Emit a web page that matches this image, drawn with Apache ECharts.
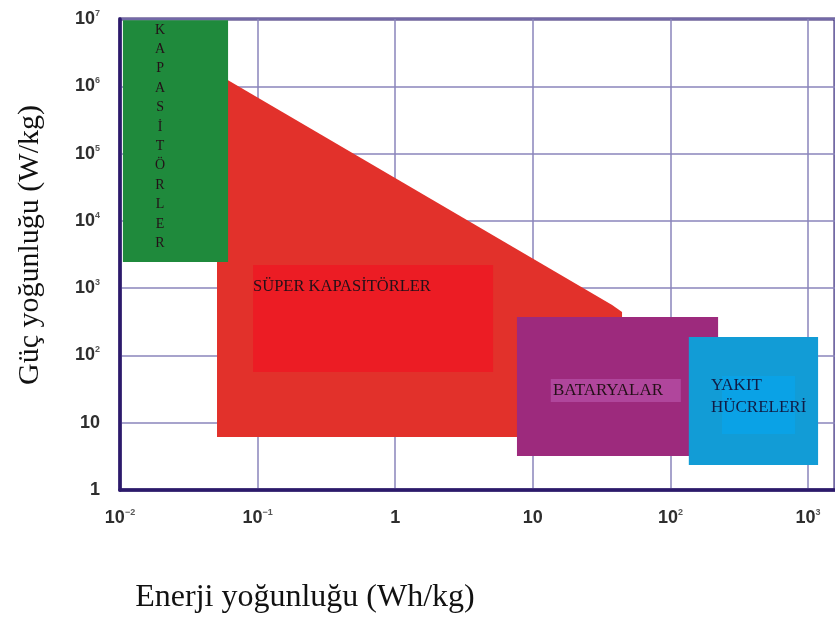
<!DOCTYPE html>
<html>
<head>
<meta charset="utf-8">
<script src="https://cdn.jsdelivr.net/npm/echarts@6/dist/echarts.min.js"></script>
<style>html,body{margin:0;padding:0;background:#fff}#c{width:835px;height:617px}</style>
</head>
<body>
<div id="c"></div>
<script>
// ---- axis ticks ----
const xTickExp = [-2, -1, 0, 1, 2, 3];
const xTickBase = ['10', '10', '1', '10', '10', '10'];
const xTickSup = ['\u22122', '\u22121', '', '', '2', '3'];
const yTickExp = [0, 1, 2, 3, 4, 5, 6, 7];
const yTickBase = ['1', '10', '10', '10', '10', '10', '10', '10'];
const yTickSup = ['', '', '2', '3', '4', '5', '6', '7'];

// ---- regions (energy Wh/kg, power W/kg) ----
const kapasitorler = [[0.0105, 2450], [0.061, 9.6e6]];
const superKapasitorler = [[0.0507, 6.13], [0.0507, 1.54e6], [37.7, 561], [44.5, 442], [44.5, 6.13]];
const superKapasitorlerIc = [[0.0927, 56.7], [5.14, 2206]];
const bataryalar = [[7.67, 3.2], [222, 372]];
const bataryalarIc = [[13.5, 20.3], [119, 44.6]];
const yakitHucreleri = [[136, 2.35], [1183, 188]];
const yakitHucreleriIc = [[237, 6.8], [805, 49.5]];

// ---- labels ----
const labelTexts = ['SÜPER KAPASİTÖRLER', 'BATARYALAR', 'YAKIT\nHÜCRELERİ', 'KAPASİTÖRLER'];
const labelPos = [[0.0927, 1040], [14.0, 29.6], [197, 24.9], [0.01954, 1.79e5]];

function rectPts(r) {
  return [[r[0][0], r[0][1]], [r[1][0], r[0][1]], [r[1][0], r[1][1]], [r[0][0], r[1][1]]];
}
function polySeries(points, color) {
  return {
    type: 'custom', coordinateSystem: 'cartesian2d', silent: true, clip: true,
    data: points,
    renderItem: function (params, api) {
      if (params.dataIndex !== 0) return null;
      return { type: 'polygon', shape: { points: points.map(p => api.coord(p)) }, style: { fill: color } };
    }
  };
}
function fmt(exps, base, sup) {
  return function (v) {
    const i = exps.indexOf(Math.round(Math.log10(v)));
    if (i < 0) return '';
    return sup[i] ? base[i] + '{s|' + sup[i] + '}' : base[i];
  };
}
const tickFont = { color: '#2e2e2e', fontFamily: 'Liberation Sans', fontWeight: 'bold', fontSize: 18, lineHeight: 20,
  rich: { s: { fontSize: 9, fontWeight: 'bold', fontFamily: 'Liberation Sans', color: '#555', verticalAlign: 'top', lineHeight: 18 } } };

const chart = echarts.init(document.getElementById('c'));
chart.setOption({
  animation: false,
  grid: { left: 120, right: -4, top: 19, bottom: 127, show: true, borderColor: '#2c1a6b', borderWidth: 3, containLabel: false },
  xAxis: {
    type: 'log', logBase: 10, min: 0.01, max: 1570,
    axisLine: { show: true, lineStyle: { color: '#2c1a6b', width: 3.5 } },
    axisTick: { show: false },
    splitLine: { show: true, lineStyle: { color: '#8a84bb', width: 1.5 } },
    axisLabel: Object.assign({ margin: 18, showMaxLabel: false, formatter: fmt(xTickExp, xTickBase, xTickSup) }, tickFont)
  },
  yAxis: {
    type: 'log', logBase: 10, min: 1, max: 1e7,
    axisLine: { show: true, lineStyle: { color: '#2c1a6b', width: 3.5 } },
    axisTick: { show: false },
    splitLine: { show: true, lineStyle: { color: '#8a84bb', width: 1.5 } },
    axisLabel: Object.assign({ margin: 20, formatter: fmt(yTickExp, yTickBase, yTickSup) }, tickFont)
  },
  graphic: [
    { type: 'text', x: 30, y: 245, rotation: Math.PI / 2, style: { text: 'Güç yoğunluğu (W/kg)', fontFamily: 'Liberation Serif', fontSize: 30, fill: '#111', align: 'center', verticalAlign: 'middle' } },
    { type: 'text', x: 305, y: 598, style: { text: 'Enerji yoğunluğu (Wh/kg)', fontFamily: 'Liberation Serif', fontSize: 32, fill: '#111', align: 'center', verticalAlign: 'middle' } }
  ],
  series: [
    polySeries(superKapasitorler, '#e2312b'),
    polySeries(rectPts(superKapasitorlerIc), '#ec1c24'),
    polySeries(rectPts(kapasitorler), '#1f8a3c'),
    polySeries(rectPts(bataryalar), '#9d2a7d'),
    polySeries(rectPts(bataryalarIc), '#b0469c'),
    polySeries(rectPts(yakitHucreleri), '#129cd6'),
    polySeries(rectPts(yakitHucreleriIc), '#0aa2e6'),
    {
      type: 'custom', coordinateSystem: 'cartesian2d', silent: true, z: 5,
      data: labelPos,
      renderItem: function (params, api) {
        const i = params.dataIndex;
        const p = api.coord(labelPos[i]);
        const vertical = i === 3;
        const txt = vertical ? labelTexts[i].split('').join('\n') : labelTexts[i];
        return { type: 'text', x: p[0], y: p[1], style: {
          text: txt, fontFamily: 'Liberation Serif', fontSize: vertical ? 14 : (i === 0 ? 16.5 : 17),
          lineHeight: vertical ? 19.4 : 22, fill: i === 2 ? '#101c45' : '#241018',
          align: vertical ? 'center' : 'left', verticalAlign: 'middle' } };
      }
    }
  ]
});
</script>
</body>
</html>
